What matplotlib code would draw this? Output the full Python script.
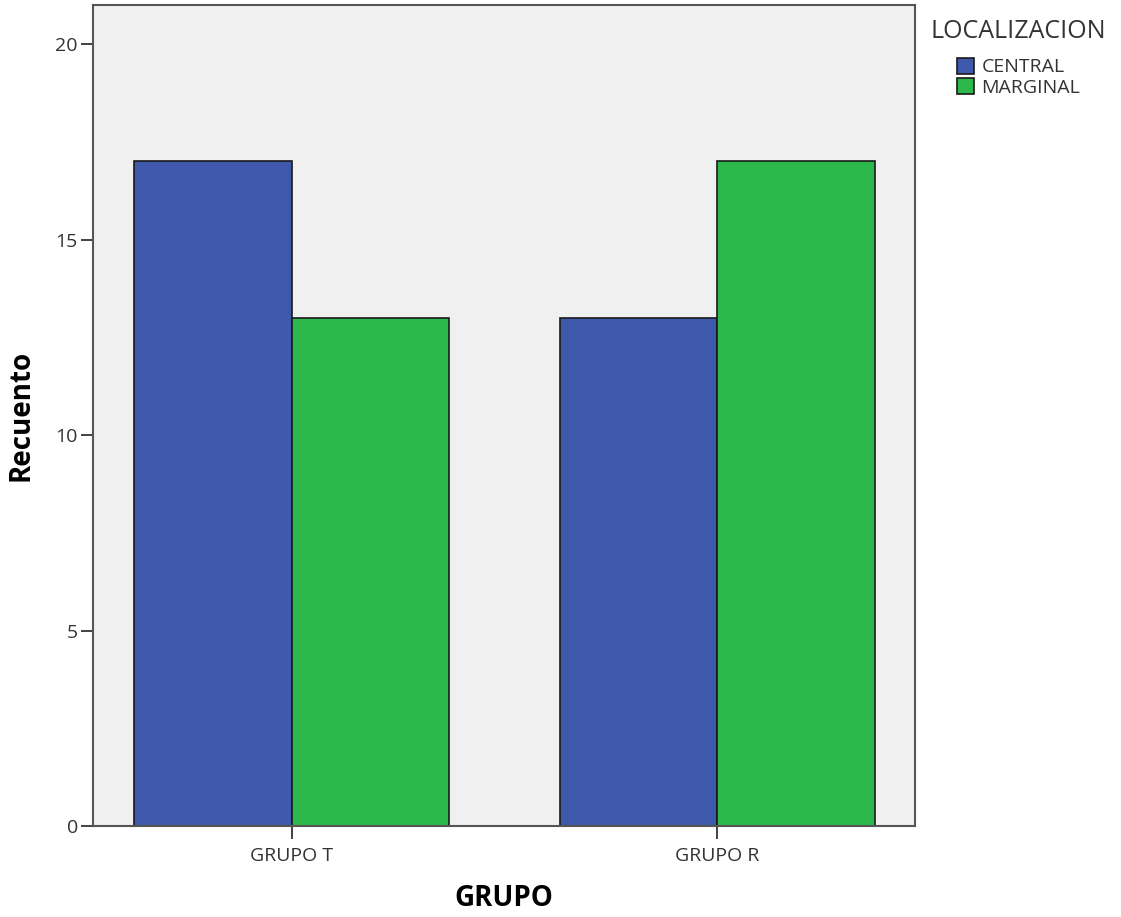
import matplotlib.pyplot as plt
import numpy as np

plt.rcParams['font.family'] = ['Open Sans', 'DejaVu Sans']

grupos = ['GRUPO T', 'GRUPO R']
central = [17, 13]
marginal = [13, 17]
series_names = ['CENTRAL', 'MARGINAL']
colors = ['#3E58AC', '#2DB84B']

fig = plt.figure(figsize=(11.21, 9.17), dpi=100)
ax = fig.add_axes([0.083, 0.0992, 0.733, 0.8953])
ax.set_facecolor('#F0F0F0')

x = np.arange(len(grupos))
w = 0.37
ax.bar(x - w / 2, central, w, color=colors[0], edgecolor='#1a1a1a', linewidth=1.2, label=series_names[0])
ax.bar(x + w / 2, marginal, w, color=colors[1], edgecolor='#1a1a1a', linewidth=1.2, label=series_names[1])

ax.set_xlim(-0.467, 1.464)
ax.set_ylim(0, 21)
ax.set_yticks([0, 5, 10, 15, 20])
ax.set_xticks(x)
ax.set_xticklabels(grupos)
ax.tick_params(axis='both', labelsize=14, colors='#333333', length=9, width=1.3)
ax.tick_params(axis='x', pad=6)
ax.tick_params(axis='y', pad=2)
for s in ax.spines.values():
    s.set_color('#555555')
    s.set_linewidth(1.5)

ax.set_ylabel('Recuento', fontsize=20, fontweight='bold', labelpad=14)
ax.set_xlabel('GRUPO', fontsize=20, fontweight='bold', labelpad=14)

leg = ax.legend(title='LOCALIZACION', loc='upper left', bbox_to_anchor=(1.003, 1.0),
                frameon=False, fontsize=14, title_fontsize=18,
                handlelength=0.85, handleheight=0.9, handletextpad=0.4,
                labelspacing=0.1, borderaxespad=0.3)
leg._legend_box.align = 'center'
leg._legend_box.sep = 10
for t in leg.get_texts():
    t.set_color('#333333')
leg.get_title().set_color('#333333')

fig.savefig('out.png', dpi=100)
